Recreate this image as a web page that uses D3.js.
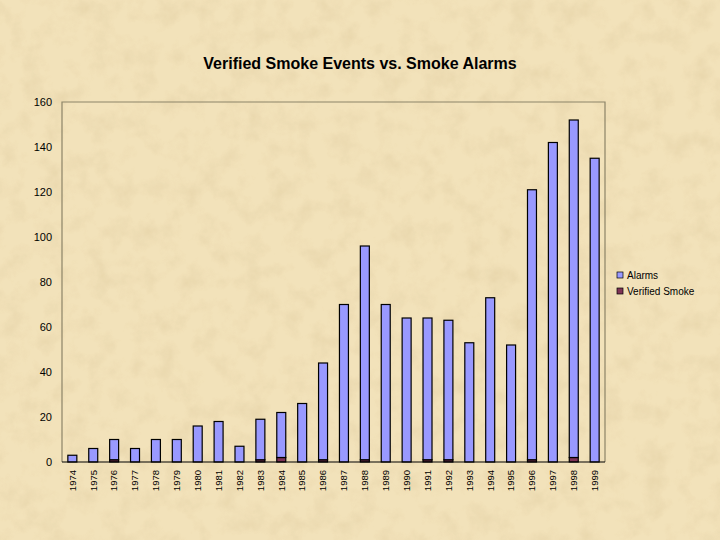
<!DOCTYPE html>
<html><head><meta charset="utf-8">
<script src="https://cdn.jsdelivr.net/npm/d3@7"></script>
<style>body{margin:0;}svg{display:block;}</style>
</head><body>
<script>
const years = ["1974","1975","1976","1977","1978","1979","1980","1981","1982","1983","1984","1985","1986","1987","1988","1989","1990","1991","1992","1993","1994","1995","1996","1997","1998","1999"];
const verified = [0,0,1,0,0,0,0,0,0,1,2,0,1,0,1,0,0,1,1,0,0,0,1,0,2,0];
const alarms = [3,6,9,6,10,10,16,18,7,18,20,26,43,70,95,70,64,63,62,53,73,52,120,142,150,135];
const yTicks = [0,20,40,60,80,100,120,140,160];
const seriesNames = ["Alarms","Verified Smoke"];

const W=720,H=540;
const svg=d3.select("body").append("svg").attr("width",W).attr("height",H);
const defs=svg.append("defs");
const f=defs.append("filter").attr("id","tex").attr("x",0).attr("y",0).attr("width","100%").attr("height","100%");
f.append("feTurbulence").attr("type","fractalNoise").attr("baseFrequency","0.045").attr("numOctaves",4).attr("seed",7).attr("result","n");
f.append("feColorMatrix").attr("in","n").attr("type","matrix")
 .attr("values","0 0 0 0 0.80  0 0 0 0 0.66  0 0 0 0 0.40  0 0 0 -2.2 1.25").attr("result","c");
svg.append("rect").attr("width",W).attr("height",H).attr("fill","#F2E2BA");
svg.append("rect").attr("width",W).attr("height",H).attr("fill","#F2E2BA").attr("filter","url(#tex)").attr("opacity",0.7);

const m={l:62,t:102,r:605,b:462};
const x=d3.scaleBand().domain(years).range([m.l,m.r]).paddingInner(0.57).paddingOuter(0.28);
const y=d3.scaleLinear().domain([0,160]).range([m.b,m.t]);

svg.append("text").attr("x",360).attr("y",69).attr("text-anchor","middle")
 .attr("font-family","Liberation Sans, Arial, sans-serif").attr("font-weight","bold").attr("font-size",16).text("Verified Smoke Events vs. Smoke Alarms");

// plot frame
svg.append("path").attr("d",`M${m.l},${m.b}V${m.t}H${m.r}V${m.b}`).attr("fill","none").attr("stroke","#8C8468").attr("stroke-width",1.2);

const data=years.map((yr,i)=>({yr,v:verified[i],a:alarms[i]}));
const stack=d3.stack().keys(["v","a"])(data);
const colors={v:"#7F3355",a:"#9999FF"};
stack.forEach(s=>{
  svg.append("g").selectAll("rect").data(s).join("rect")
   .attr("x",d=>x(d.data.yr)).attr("width",x.bandwidth())
   .attr("y",d=>y(d[1])).attr("height",d=>y(d[0])-y(d[1]))
   .attr("fill",colors[s.key]).attr("stroke","#000").attr("stroke-width",1.2)
   .attr("display",d=>d[1]-d[0]>0?null:"none");
});

// axes
const ya=svg.append("g").attr("transform",`translate(${m.l},0)`).call(d3.axisLeft(y).tickValues(yTicks).tickSize(0).tickPadding(10));
ya.select(".domain").remove();
ya.selectAll("text").attr("font-family","Liberation Sans, Arial, sans-serif").attr("font-size",11).attr("fill","#000");
svg.append("line").attr("x1",m.l).attr("x2",m.r).attr("y1",m.b).attr("y2",m.b).attr("stroke","#000").attr("stroke-width",1);

const xa=svg.append("g").attr("transform",`translate(0,${m.b})`).call(d3.axisBottom(x).tickSize(0).tickPadding(0));
xa.select(".domain").remove();
xa.selectAll("text").attr("font-family","Liberation Sans, Arial, sans-serif").attr("font-size",9.5).attr("fill","#000")
 .attr("transform","rotate(-90)").attr("text-anchor","end").attr("dy","0.35em").attr("x",-8).attr("y",0);

// legend
const lg=svg.append("g").attr("transform","translate(617,272)");
seriesNames.forEach((n,i)=>{
  const g=lg.append("g").attr("transform",`translate(0,${i*16})`);
  g.append("rect").attr("x",0).attr("y",0).attr("width",6).attr("height",6).attr("fill",i?colors.v:colors.a).attr("stroke","#000").attr("stroke-width",0.7);
  g.append("text").attr("x",10).attr("y",7).attr("font-family","Liberation Sans, Arial, sans-serif").attr("font-size",10).text(n);
});
</script>
</body></html>
